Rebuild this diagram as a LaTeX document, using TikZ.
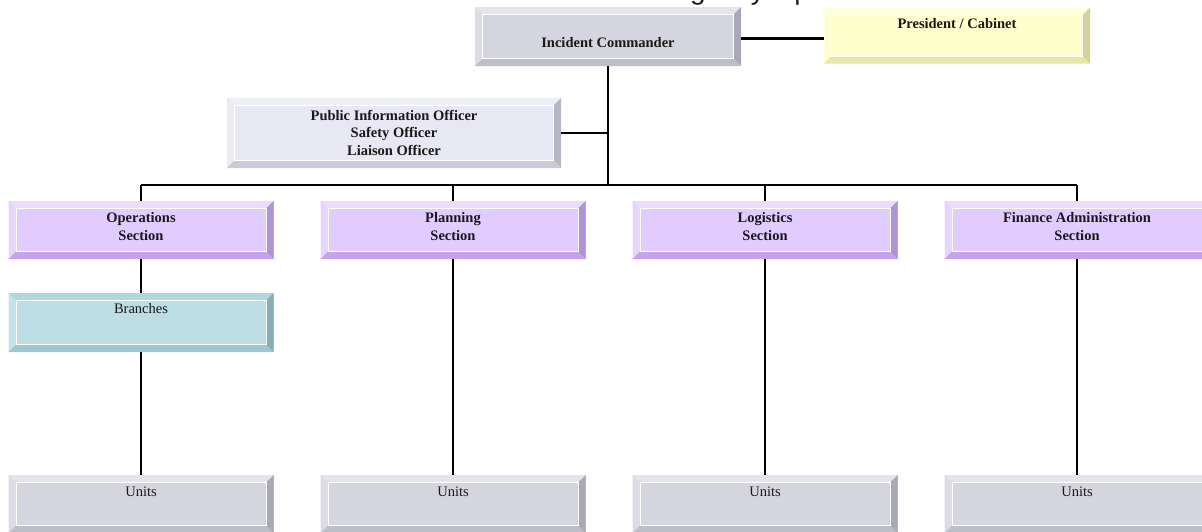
\documentclass[tikz,border=0pt]{standalone}
\usepackage{fontspec}
\setmainfont{Liberation Serif}
\newfontfamily\titlefont{Liberation Sans}
\definecolor{gF}{HTML}{D5D5E0}
\definecolor{gT}{HTML}{E4E4EC}
\definecolor{gL}{HTML}{DCDCE6}
\definecolor{gR}{HTML}{A8A8B6}
\definecolor{gB}{HTML}{BEBECB}
\definecolor{yF}{HTML}{FFFFCC}
\definecolor{yT}{HTML}{FFFFDD}
\definecolor{yL}{HTML}{FFFFD6}
\definecolor{yR}{HTML}{D2D29A}
\definecolor{yB}{HTML}{E6E6A6}
\definecolor{lF}{HTML}{E8E8F4}
\definecolor{lT}{HTML}{EFEFF7}
\definecolor{lL}{HTML}{EBEBF5}
\definecolor{lR}{HTML}{B6B6C6}
\definecolor{lB}{HTML}{CACAD8}
\definecolor{pF}{HTML}{E2CCFF}
\definecolor{pT}{HTML}{EBDCFF}
\definecolor{pL}{HTML}{E6D4FF}
\definecolor{pR}{HTML}{B092D8}
\definecolor{pB}{HTML}{C4A4E6}
\definecolor{tF}{HTML}{BBDEE4}
\definecolor{tT}{HTML}{ADD8E0}
\definecolor{tL}{HTML}{C4E2E8}
\definecolor{tR}{HTML}{86AEB8}
\definecolor{tB}{HTML}{9CC8D2}
\tikzset{
  bev/.style n args={5}{rectangle, inner sep=0pt, outer sep=0pt, draw=none, fill=#1,
    path picture={
      \path (path picture bounding box.north west) coordinate (pNW)
            (path picture bounding box.north east) coordinate (pNE)
            (path picture bounding box.south west) coordinate (pSW)
            (path picture bounding box.south east) coordinate (pSE);
      \path ([shift={(7.5pt,-7.5pt)}]pNW) coordinate (qNW)
            ([shift={(-7.5pt,-7.5pt)}]pNE) coordinate (qNE)
            ([shift={(7.5pt,7.5pt)}]pSW) coordinate (qSW)
            ([shift={(-7.5pt,7.5pt)}]pSE) coordinate (qSE);
      \fill[#2] (pNW)--(pNE)--(qNE)--(qNW)--cycle;
      \fill[#3] (pNW)--(qNW)--(qSW)--(pSW)--cycle;
      \fill[#4] (pNE)--(pSE)--(qSE)--(qNE)--cycle;
      \fill[#5] (pSW)--(qSW)--(qSE)--(pSE)--cycle;
      \draw[white, line width=1pt] (qNW) rectangle (qSE);
    }},
  graybox/.style={bev={gF}{gT}{gL}{gR}{gB}},
  yellowbox/.style={bev={yF}{yT}{yL}{yR}{yB}},
  lightbox/.style={bev={lF}{lT}{lL}{lR}{lB}},
  purplebox/.style={bev={pF}{pT}{pL}{pR}{pB}},
  tealbox/.style={bev={tF}{tT}{tL}{tR}{tB}},
  bt/.style={font=\fontsize{14.5}{17.5}\selectfont\bfseries, align=center, inner sep=0pt, text=black!90},
  rt/.style={font=\fontsize{14.5}{17.5}\selectfont, inner sep=0pt, text=black!90},
  conn/.style={draw=black, line width=2.1pt},
}
\begin{document}
\begin{tikzpicture}[x=1pt, y=-1pt]
\useasboundingbox (0,0) rectangle (1202,531);
% title (mostly hidden behind the boxes and outside the page)
\node[anchor=base west, inner sep=0pt, font=\titlefont\fontsize{28}{30}\selectfont, text=black!88] (title) at (623,-0.5) {Emergency Operations Center};

% boxes
\node[graybox, minimum width=266, minimum height=59] (ic) at (608,36.5) {};
\node[yellowbox, minimum width=266, minimum height=56] (pres) at (957,35.5) {};
\node[lightbox, minimum width=334, minimum height=70] (pio) at (394,133) {};
\node[purplebox, minimum width=265, minimum height=58] (ops) at (141,230) {};
\node[purplebox, minimum width=265, minimum height=58] (plan) at (453,230) {};
\node[purplebox, minimum width=265, minimum height=58] (log) at (765,230) {};
\node[purplebox, minimum width=265, minimum height=58] (fin) at (1077,230) {};
\node[tealbox, minimum width=265, minimum height=59] (br) at (141,322.5) {};
\node[graybox, minimum width=265, minimum height=58] (u1) at (141,504) {};
\node[graybox, minimum width=265, minimum height=58] (u2) at (453,504) {};
\node[graybox, minimum width=265, minimum height=58] (u3) at (765,504) {};
\node[graybox, minimum width=265, minimum height=58] (u4) at (1077,504) {};

% texts
\node[bt, anchor=base] (ict) at (608,47) {Incident Commander};
\node[bt, anchor=base] (prest) at (957,28) {President / Cabinet};
\node[bt, anchor=center] (piot) at (394,132.6) {Public Information Officer\\Safety Officer\\Liaison Officer};
\node[bt, anchor=center] (opst) at (141,226.6) {Operations\\Section};
\node[bt, anchor=center] (plant) at (453,226.6) {Planning\\Section};
\node[bt, anchor=center] (logt) at (765,226.6) {Logistics\\Section};
\node[bt, anchor=center] (fint) at (1077,226.6) {Finance Administration\\Section};
\node[rt, anchor=base] (brt) at (141,313) {Branches};
\node[rt, anchor=base] (u1t) at (141,496) {Units};
\node[rt, anchor=base] (u2t) at (453,496) {Units};
\node[rt, anchor=base] (u3t) at (765,496) {Units};
\node[rt, anchor=base] (u4t) at (1077,496) {Units};

% connectors
\coordinate (busL) at (141,185);
\coordinate (busR) at (1077,185);
\draw[conn] ([yshift=-2pt]ic.east) -- ([yshift=-2pt]ic.east -| pres.west);
\draw[conn] (ic.south) -- (ic.south |- busL);
\draw[conn] (pio.east) -- (pio.east -| ic.south);
\draw[conn] (busL) -- (busR);
\draw[conn] (ops.north) -- (ops.north |- busL);
\draw[conn] (plan.north) -- (plan.north |- busL);
\draw[conn] (log.north) -- (log.north |- busL);
\draw[conn] (fin.north) -- (fin.north |- busL);
\draw[conn] (ops.south) -- (br.north);
\draw[conn] (br.south) -- (u1.north);
\draw[conn] (plan.south) -- (u2.north);
\draw[conn] (log.south) -- (u3.north);
\draw[conn] (fin.south) -- (u4.north);
\end{tikzpicture}
\end{document}
